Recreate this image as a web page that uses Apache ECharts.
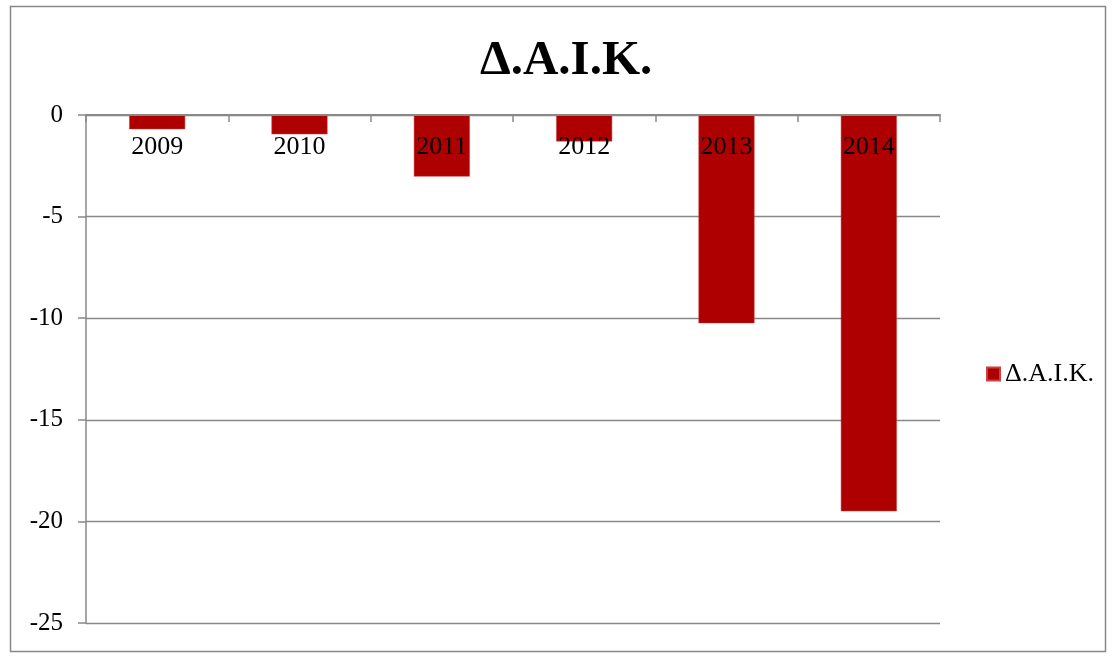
<!DOCTYPE html>
<html>
<head>
<meta charset="utf-8">
<script src="https://cdn.jsdelivr.net/npm/echarts@6/dist/echarts.min.js"></script>
<style>
  html, body { margin: 0; padding: 0; background: #fff; }
  #chart { width: 1112px; height: 656px; }
</style>
</head>
<body>
<div id="chart"></div>
<script>
// data
var years = ['2009', '2010', '2011', '2012', '2013', '2014'];
var daikValues = [-0.7, -0.95, -3.03, -1.3, -10.25, -19.5];
var seriesName = 'Δ.Α.Ι.Κ.';

const FONT = '"Liberation Serif", "DejaVu Serif", serif';
const GREY = '#888888';
const BAR_COLOR = '#AE0000';

var myChart = echarts.init(document.getElementById('chart'));

myChart.setOption({
    animation: false,
    backgroundColor: '#fff',
    graphic: [{
        type: 'rect',
        shape: { x: 10.5, y: 6.5, width: 1095, height: 645 },
        style: { fill: 'none', stroke: GREY, lineWidth: 1.5 },
        silent: true
    }],
    title: {
        text: seriesName,
        left: 475,
        top: 32,
        textStyle: { fontFamily: FONT, fontSize: 49, fontWeight: 'bold', color: '#000' }
    },
    legend: {
        data: [seriesName],
        left: 981,
        top: 356,
        itemWidth: 13,
        itemHeight: 13,
        itemGap: 6,
        icon: 'rect',
        textStyle: { fontFamily: FONT, fontSize: 26, color: '#000' }
    },
    grid: { left: 86, right: 172, top: 115, bottom: 33, containLabel: false },
    xAxis: {
        type: 'category',
        data: years,
        position: 'top',
        z: 3,
        axisLine: { lineStyle: { color: GREY, width: 2 } },
        axisTick: { show: true, inside: true, length: 7, lineStyle: { color: GREY, width: 1.5 } },
        axisLabel: { inside: true, margin: 19, fontFamily: FONT, fontSize: 26, color: '#000' },
        splitLine: { show: false }
    },
    yAxis: {
        type: 'value',
        min: -25,
        max: 0,
        interval: 5,
        axisLine: { show: true, lineStyle: { color: GREY, width: 1.5 } },
        axisTick: { show: true, length: 8, lineStyle: { color: GREY, width: 1.5 } },
        axisLabel: { margin: 23, fontFamily: FONT, fontSize: 25, color: '#000' },
        splitLine: { show: true, lineStyle: { color: GREY, width: 1.3 } }
    },
    series: [{
        name: seriesName,
        type: 'bar',
        data: daikValues,
        barWidth: 56,
        itemStyle: { color: BAR_COLOR, borderColor: '#C94040', borderWidth: 0.5 }
    }]
});
</script>
</body>
</html>
